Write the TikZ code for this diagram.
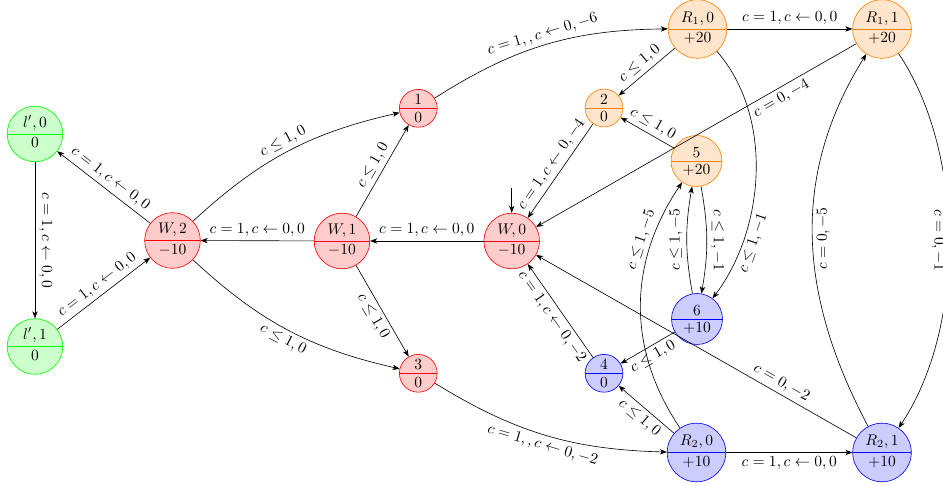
\documentclass[tikz,border=0pt]{standalone}
\usetikzlibrary{shapes.multipart,arrows.meta}
\begin{document}
\begin{tikzpicture}[x=0.64516pt,y=-0.64516pt,
  st/.style={circle split, draw, inner sep=2.3pt, font=\normalsize},
  bignode/.style={st, minimum size=35.9pt},
  rnode/.style={st, minimum size=37.8pt},
  midnode/.style={st, minimum size=31.4pt},
  smallnode/.style={st, minimum size=23pt},
  redc/.style={draw=red, fill=red!20},
  greenc/.style={draw=green, fill=green!20},
  orangec/.style={draw=orange, fill=orange!20},
  bluec/.style={draw=blue, fill=blue!20},
  edge/.style={draw=black, -{Stealth[length=4.5pt,width=3.4pt,inset=1.2pt]}},
  lab/.style={font=\normalsize, inner sep=2.5pt}
]
\useasboundingbox (0,0) rectangle (943,486);

% nodes
\node[bignode,greenc] (l0) at (35,134) {$l',0$\nodepart{lower}$0$};
\node[bignode,greenc] (l1) at (35,346.5) {$l',1$\nodepart{lower}$0$};
\node[bignode,redc] (W2) at (172.5,240.5) {$W,2$\nodepart{lower}$-10$};
\node[bignode,redc] (W1) at (342,241) {$W,1$\nodepart{lower}$-10$};
\node[bignode,redc] (W0) at (511.7,241) {$W,0$\nodepart{lower}$-10$};
\node[smallnode,redc] (n1) at (418.3,108.3) {$1$\nodepart{lower}$0$};
\node[smallnode,redc] (n3) at (418.3,373.3) {$3$\nodepart{lower}$0$};
\node[rnode,orangec] (R10) at (697.5,29) {$R_1,0$\nodepart{lower}$+20$};
\node[rnode,orangec] (R11) at (882,29) {$R_1,1$\nodepart{lower}$+20$};
\node[smallnode,orangec] (n2) at (604,108) {$2$\nodepart{lower}$0$};
\node[midnode,orangec] (n5) at (696.5,161) {$5$\nodepart{lower}$+20$};
\node[midnode,bluec] (n6) at (697,319) {$6$\nodepart{lower}$+10$};
\node[smallnode,bluec] (n4) at (604,373.3) {$4$\nodepart{lower}$0$};
\node[rnode,bluec] (R20) at (696.5,452.5) {$R_2,0$\nodepart{lower}$+10$};
\node[rnode,bluec] (R21) at (882,452.5) {$R_2,1$\nodepart{lower}$+10$};

\coordinate (init) at (511.7,188);

% edges
\draw[edge] (init) -- (W0);
\draw[edge] (l0) -- node[lab,above,rotate=-90]{$c=1,c\leftarrow 0,0$} (l1);
\draw[edge] (l1) -- node[lab,above,sloped]{$c=1,c\leftarrow 0,0$} (W2);
\draw[edge] (W2) -- node[lab,above,sloped]{$c=1,c\leftarrow 0,0$} (l0);
\draw[edge] (W1) -- node[lab,above]{$c=1,c\leftarrow 0,0$} (W2);
\draw[edge] (W0) -- node[lab,above]{$c=1,c\leftarrow 0,0$} (W1);
\draw[edge] (W2) to[bend left=15] node[lab,above,sloped]{$c\leq 1,0$} (n1);
\draw[edge] (W2) to[bend right=15] node[lab,below,sloped]{$c\leq 1,0$} (n3);
\draw[edge] (W1) -- node[lab,above,sloped]{$c\leq 1,0$} (n1);
\draw[edge] (W1) -- node[lab,below,sloped]{$c\leq 1,0$} (n3);
\draw[edge] (n1) to[bend left=16] node[lab,above,sloped]{$c=1,,c\leftarrow 0,-6$} (R10);
\draw[edge] (n3) to[bend right=15] node[lab,below,sloped]{$c=1,,c\leftarrow 0,-2$} (R20);
\draw[edge] (R10) -- node[lab,above]{$c=1,c\leftarrow 0,0$} (R11);
\draw[edge] (R20) -- node[lab,below]{$c=1,c\leftarrow 0,0$} (R21);
\draw[edge] (R10) -- node[lab,above,sloped]{$c\leq 1,0$} (n2);
\draw[edge] (n5) -- node[lab,above,sloped]{$c\leq 1,0$} (n2);
\draw[edge] (n2) -- node[lab,above,sloped]{$c=1,c\leftarrow 0,-4$} (W0);
\draw[edge] (n4) -- node[lab,below,sloped]{$c=1,c\leftarrow 0,-2$} (W0);
\draw[edge] (R20) -- node[lab,below,sloped]{$c\leq 1,0$} (n4);
\draw[edge] (n6) -- node[lab,below,sloped]{$c\leq 1,0$} (n4);
\draw[edge] (R11) -- node[lab,below,sloped,pos=0.25]{$c=0,-4$} (W0);
\draw[edge] (R21) -- node[lab,above,sloped,pos=0.25]{$c=0,-2$} (W0);
\draw[edge] (R10) to[out=-49,in=53,looseness=0.9] node[lab,below,sloped,pos=0.75]{$c\leq 1,-1$} (n6);
\draw[edge] (n5) to[bend left=10] node[lab,above,rotate=-90]{$c\leq 1,-1$} (n6);
\draw[edge] (n6) to[bend left=10] node[lab,above,rotate=90]{$c\leq 1,-5$} (n5);
\draw[edge] (R20) to[out=124,in=236] node[lab,above,sloped,pos=0.75]{$c\leq 1,-5$} (n5);
\draw[edge] (R21) to[out=118,in=238] node[lab,below,rotate=90]{$c=0,-5$} (R11);
\draw[edge] (R11) to[out=-56,in=56,looseness=0.82] node[lab,below,rotate=-90]{$c=0,-1$} (R21);
\end{tikzpicture}
\end{document}
